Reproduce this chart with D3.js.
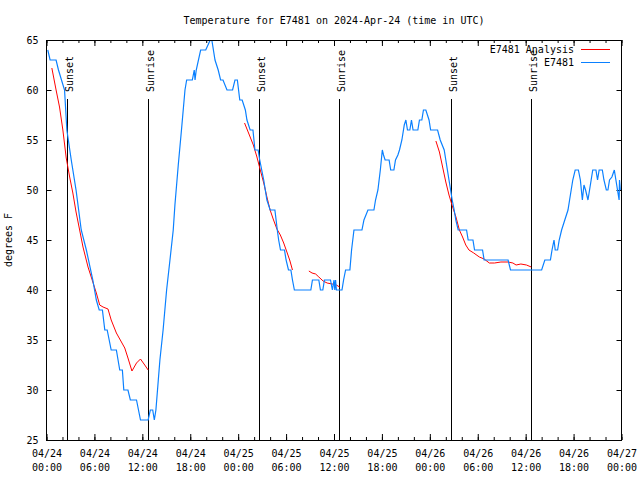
<!DOCTYPE html>
<html><head><meta charset="utf-8">
<script src="https://cdn.jsdelivr.net/npm/d3@7"></script>
<style>
html,body{margin:0;padding:0;background:#fff;}
svg text{font-family:"DejaVu Sans Mono",monospace;font-size:10px;fill:#000;}
</style></head>
<body>
<svg id="chart" width="640" height="480"></svg>
<script>
// ---- data (hours since 2024-04-24 00:00 UTC) ----
const titleText = "Temperature for E7481 on 2024-Apr-24 (time in UTC)";
const yLabel = "degrees F";
const seriesNames = ["E7481 Analysis", "E7481"];
const yTicks = [25, 30, 35, 40, 45, 50, 55, 60, 65];

const obsHours = [0.16,0.45,1.2,1.5,2.26,2.55,3.1,3.7,4.35,4.99,5.8,6.24,6.6,7.0,7.3,7.6,8.1,8.75,9.17,9.5,9.68,10.2,10.5,11.27,11.77,12.73,13.0,13.3,13.5,13.7,14.0,14.2,14.6,15.04,15.46,15.87,16.08,16.5,16.9,17.34,17.55,18.26,18.5,18.6,18.75,19.3,19.94,20.5,20.7,20.9,21.1,21.5,21.8,22.1,22.6,23.3,23.6,23.9,24.2,24.5,24.9,25.1,25.5,25.85,26.1,26.5,26.7,27.2,27.6,28.0,28.6,28.9,29.07,29.3,29.8,30.0,30.3,30.6,30.8,31.04,33.1,33.3,34.1,34.3,34.6,34.8,35.56,35.8,36.0,36.1,36.2,36.3,37.0,37.2,37.45,37.99,38.2,38.5,39.5,39.75,40.25,41.0,41.2,41.5,41.8,42.05,42.2,42.4,42.9,43.1,43.5,43.7,44.0,44.2,44.5,44.8,45.0,45.2,45.5,45.7,45.9,46.5,46.7,47.0,47.2,47.5,47.7,47.9,48.1,48.97,49.3,49.8,50.0,50.2,50.4,50.6,50.8,51.05,51.25,51.55,52.6,52.8,53.4,53.6,54.6,54.8,57.8,58.1,62.0,62.4,63.1,63.3,63.55,63.7,64.0,64.2,64.5,64.9,65.3,65.5,65.7,65.9,66.2,66.6,66.85,67.1,67.3,67.5,67.8,68.0,68.2,68.4,68.8,69.0,69.2,69.6,69.8,70.1,70.3,70.5,70.8,71.1,71.3,71.5,71.7,71.75,71.85];
const obsTemps = [64,63,63,62,60,56,53,50,46,44,41,39,38,38,36,36,34,34,32,32,30,30,29,29,27,27,28,28,27,28,31,33,36,40,43,46,48.5,52.5,56,60,61,61,62,61,62,64,64,65,65,64,63,62,61,61,60,60,61,61,59,59,58,57,56,56,54,54,53,51,49,48,48,46,45,44,44,43,42,42,41,40,40,41,41,40,40,41,41,40,41,40,41,40,40,41,42,42,44,46,46,47,48,48,49,50,52,54,53.5,53,53,52,52,53,53.5,54,55,56.5,57,56,56,57,56,56,57,57,58,58,57.5,57,56,56,55,54,53,52,51,50,49,48,47,46,46,45,45,44,44,43,43,42,42,43,43,44,45,44,44,45,46,47,48,49,50,51,52,52,51,49,50.5,50,49,50,51,52,52,51,52,52,51,50,50,51,51.3,52,51,50,49,51,50];

// analysis: NaN marks a gap between segments
const anaHours = [0.67,1.2,1.63,2.05,2.47,2.9,3.3,3.7,4.15,4.57,5.2,5.8,6.24,6.66,7.08,7.7,8.1,8.75,9.38,9.8,10.2,10.7,11.27,11.77,12.3,12.73,NaN,
  24.8,25.5,25.9,26.35,26.77,27.2,27.6,28.0,28.43,28.85,29.28,29.7,30.1,30.45,30.8,NaN,
  32.85,33.25,33.7,34.1,34.64,35.14,35.77,36.3,36.7,NaN,
  48.76,49.2,49.6,50.0,50.4,50.85,51.27,51.7,52.1,52.5,52.9,53.5,54.2,54.8,55.45,56.1,56.9,57.8,58.4,58.8,59.4,60.1,60.7];
const anaTemps = [62.2,60,58.3,56,53.2,51.3,49.7,47.8,46,44.3,42.3,40.8,39.7,38.5,38.3,38.1,37,35.7,34.8,34.2,33.2,31.9,32.7,33.1,32.5,32,NaN,
  56.7,55.3,54.5,53.3,52,50.7,49.3,48,47,46.1,45.5,44.7,43.8,43,42,NaN,
  41.9,41.7,41.6,41.3,40.9,40.7,40.6,40.5,40.3,NaN,
  54.9,53.8,52.3,50.8,49.5,48.3,47.3,46,45.3,44.5,44,43.7,43.3,43.1,42.7,42.7,42.8,42.8,42.7,42.5,42.6,42.5,42.3];

const sunLabels = ["Sunset","Sunrise","Sunset","Sunrise","Sunset","Sunrise"];
const sunHours = [2.6,12.75,26.65,36.66,50.69,60.7];

// ---- drawing ----
const base = Date.UTC(2024,3,24);
const toDate = h => new Date(base + h*3600e3);
const svg = d3.select("#chart");
const L = 46.5, R = 621.5, T = 40, B = 440;
const x = d3.scaleUtc().domain([toDate(0), toDate(72)]).range([L, R]);
const y = d3.scaleLinear().domain([25, 65]).range([B, T]);
const blue = "#0a80ff", red = "#ff0000";

svg.append("defs").append("clipPath").attr("id","clip")
  .append("rect").attr("x",L).attr("y",T).attr("width",R-L).attr("height",B-T);

// title
svg.append("text").attr("x",(L+R)/2).attr("y",24).attr("text-anchor","middle").text(titleText);

// y label
svg.append("text").attr("transform","translate(12,240) rotate(-90)").attr("text-anchor","middle").text(yLabel);

// x axes (major & minor ticks, bottom and top)
const majorTicks = d3.utcHour.every(6).range(toDate(0), toDate(72.01));
const minorTicks = d3.utcHour.every(2).range(toDate(0), toDate(72.01));
const fmt1 = d3.utcFormat("%m/%d"), fmt2 = d3.utcFormat("%H:%M");

function axStyle(g){ g.select(".domain").remove(); g.selectAll("line").attr("stroke","#000"); }

svg.append("g").attr("transform",`translate(0,${B})`)
  .call(d3.axisBottom(x).tickValues(minorTicks).tickSizeInner(-3).tickSizeOuter(0).tickFormat(""))
  .call(axStyle);
svg.append("g").attr("transform",`translate(0,${T})`)
  .call(d3.axisTop(x).tickValues(minorTicks).tickSizeInner(-3).tickSizeOuter(0).tickFormat(""))
  .call(axStyle);
svg.append("g").attr("transform",`translate(0,${T})`)
  .call(d3.axisTop(x).tickValues(majorTicks).tickSizeInner(-6).tickSizeOuter(0).tickFormat(""))
  .call(axStyle);
const xb = svg.append("g").attr("transform",`translate(0,${B})`)
  .call(d3.axisBottom(x).tickValues(majorTicks).tickSizeInner(-6).tickSizeOuter(0).tickFormat(d=>fmt1(d)))
  .call(axStyle);
xb.selectAll("text").each(function(d){
  const t = d3.select(this);
  t.text(null).attr("y",null).attr("dy",null)
   .attr("font-family","DejaVu Sans Mono").attr("font-size",10).attr("fill","#000");
  t.append("tspan").attr("x",0).attr("y",17).text(fmt1(d));
  t.append("tspan").attr("x",0).attr("y",31).text(fmt2(d));
});

// y axes
const yl = svg.append("g").attr("transform",`translate(${L},0)`)
  .call(d3.axisLeft(y).tickValues(yTicks).tickSizeInner(-5).tickSizeOuter(0).tickPadding(8).tickFormat(d3.format("d")))
  .call(axStyle);
yl.selectAll("text").attr("font-family","DejaVu Sans Mono").attr("font-size",10).attr("fill","#000");
svg.append("g").attr("transform",`translate(${R},0)`)
  .call(d3.axisRight(y).tickValues(yTicks).tickSizeInner(-5).tickSizeOuter(0).tickFormat(""))
  .call(axStyle);

// sunrise / sunset lines
const sunG = svg.append("g");
sunHours.forEach((h,i)=>{
  const px = Math.round(x(toDate(h))) + 0.5;
  sunG.append("line").attr("x1",px).attr("x2",px).attr("y1",99).attr("y2",B)
    .attr("stroke","#000").attr("stroke-width",1);
  sunG.append("text").attr("transform",`translate(${px+5.5},92) rotate(-90)`)
    .attr("text-anchor","start").text(sunLabels[i]);
});

// series lines
const lineGen = d3.line().defined(d=>!isNaN(d[1])).x(d=>x(toDate(d[0]))).y(d=>y(d[1]));
const obsData = obsHours.map((h,i)=>[h,obsTemps[i]]);
const anaData = anaHours.map((h,i)=>[h,anaTemps[i]]);
const plot = svg.append("g").attr("clip-path","url(#clip)");
plot.append("path").datum(anaData).attr("d",lineGen).attr("fill","none").attr("stroke",red).attr("stroke-width",1);
plot.append("path").datum(obsData).attr("d",lineGen).attr("fill","none").attr("stroke",blue).attr("stroke-width",1.2);

// frame
svg.append("rect").attr("x",L).attr("y",T+0.5).attr("width",R-L).attr("height",B-T)
  .attr("fill","none").attr("stroke","#000").attr("stroke-width",1);

// legend
const leg = svg.append("g");
[[red,49.5],[blue,62.5]].forEach(([c,ly],i)=>{
  leg.append("text").attr("x",574).attr("y",ly+3.5).attr("text-anchor","end").text(seriesNames[i]);
  leg.append("line").attr("x1",581).attr("x2",610).attr("y1",ly).attr("y2",ly).attr("stroke",c).attr("stroke-width",1);
});
</script>
</body></html>
